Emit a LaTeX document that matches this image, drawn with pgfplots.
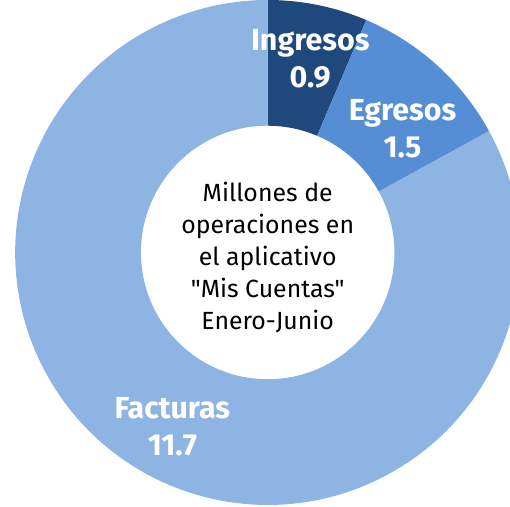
\documentclass[border=0pt]{standalone}
\usepackage{pgfplots}
\pgfplotsset{compat=1.18}
\usepackage{pgfplotstable}
\usepackage{fontspec}
\setmainfont{Fira Sans}
\newfontfamily\centerfont[Mapping=]{Fira Sans}
\definecolor{cIng}{RGB}{31,73,125}
\definecolor{cEgr}{RGB}{85,142,213}
\definecolor{cFac}{RGB}{142,180,227}
\pgfplotstableread{
label value
Ingresos 0.9
Egresos 1.5
Facturas 11.7
}\donutdata
\begin{document}
\begin{tikzpicture}
\pgfplotstablegetelem{0}{value}\of\donutdata \let\vA\pgfplotsretval
\pgfplotstablegetelem{1}{value}\of\donutdata \let\vB\pgfplotsretval
\pgfplotstablegetelem{2}{value}\of\donutdata \let\vC\pgfplotsretval
\pgfmathsetmacro\tot{\vA+\vB+\vC}
\pgfmathsetmacro\aO{90}
\pgfmathsetmacro\aA{90-360*\vA/\tot}
\pgfmathsetmacro\aB{\aA-360*\vB/\tot}
\pgfmathsetmacro\aC{\aB-360*\vC/\tot}
\def\cx{264}\def\cy{251}\def\Ro{249}\def\Ri{125}
\begin{axis}[
  scale only axis, width=503bp, height=510bp,
  xmin=0, xmax=503, ymin=0, ymax=510,
  axis lines=none, clip=true,
]
\fill[cIng] (axis cs:{\cx+\Ro*cos(\aO)},{\cy+\Ro*sin(\aO)}) arc[start angle=\aO, end angle=\aA, radius=\Ro bp]
  -- (axis cs:{\cx+\Ri*cos(\aA)},{\cy+\Ri*sin(\aA)}) arc[start angle=\aA, end angle=\aO, radius=\Ri bp] -- cycle;
\fill[cEgr] (axis cs:{\cx+\Ro*cos(\aA)},{\cy+\Ro*sin(\aA)}) arc[start angle=\aA, end angle=\aB, radius=\Ro bp]
  -- (axis cs:{\cx+\Ri*cos(\aB)},{\cy+\Ri*sin(\aB)}) arc[start angle=\aB, end angle=\aA, radius=\Ri bp] -- cycle;
\fill[cFac] (axis cs:{\cx+\Ro*cos(\aB)},{\cy+\Ro*sin(\aB)}) arc[start angle=\aB, end angle=\aC, radius=\Ro bp]
  -- (axis cs:{\cx+\Ri*cos(\aC)},{\cy+\Ri*sin(\aC)}) arc[start angle=\aC, end angle=\aB, radius=\Ri bp] -- cycle;
\node[white, font=\bfseries\fontsize{30bp}{36bp}\selectfont, align=center] at (axis cs:306,442) {Ingresos\\\vA};
\node[white, font=\bfseries\fontsize{30bp}{36bp}\selectfont, align=center] at (axis cs:397,373) {Egresos\\\vB};
\node[white, font=\bfseries\fontsize{30bp}{37bp}\selectfont, align=center] at (axis cs:170,79) {Facturas\\\vC};
\node[black, font=\centerfont\fontsize{24.5bp}{31.5bp}\selectfont, align=center] at (axis cs:264,246) {Millones de\\operaciones en\\el aplicativo\\"Mis Cuentas"\\Enero-Junio};
\end{axis}
\end{tikzpicture}
\end{document}
